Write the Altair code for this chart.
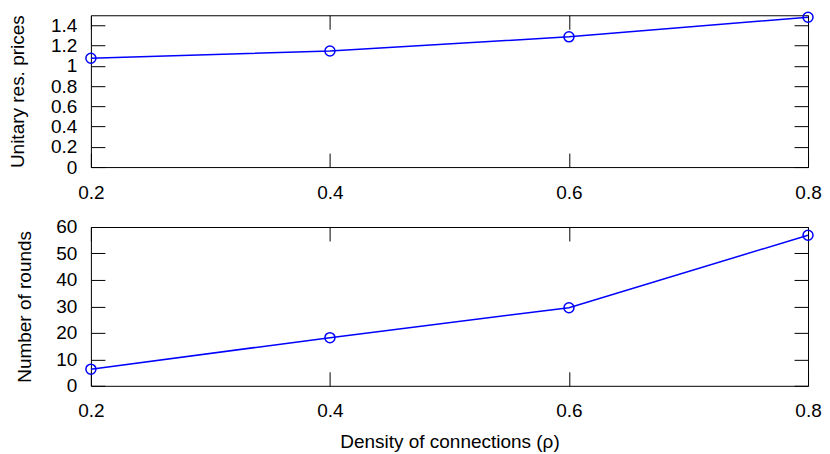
import altair as alt
import pandas as pd

# ---- data ----
density = [0.2, 0.4, 0.6, 0.8]
prices = [1.075, 1.147, 1.287, 1.481]
rounds = [6.3, 18.2, 29.5, 56.9]

x_ticks = [0.2, 0.4, 0.6, 0.8]
price_ticks = [0, 0.2, 0.4, 0.6, 0.8, 1.0, 1.2, 1.4]
round_ticks = [0, 10, 20, 30, 40, 50, 60]

W = 718
H_TOP = 152
H_BOT = 159
TICK = 14
FS = 19
BLUE = "#0000ff"


def panel(values, ytitle, ydomain, yticks, height, title_pad, xtitle):
    df = pd.DataFrame({"density": density, "value": values})
    xs = alt.Scale(domain=[0.2, 0.8], nice=False, zero=False)
    ys = alt.Scale(domain=ydomain, nice=False, zero=False)

    x_kwargs = dict(values=x_ticks, labelExpr="datum.value + ''", ticks=False,
                    domain=False, grid=False, labelPadding=16, labelFlush=False)
    if xtitle:
        x_main_axis = alt.Axis(title=xtitle, titlePadding=12, **x_kwargs)
    else:
        x_main_axis = alt.Axis(title=None, **x_kwargs)

    main = alt.Chart(df).mark_line(
        color=BLUE, strokeWidth=1.5,
        point=alt.OverlayMarkDef(filled=False, shape="circle", size=100,
                                 color=BLUE, strokeWidth=1.5, opacity=1),
    ).encode(
        x=alt.X("density:Q", scale=xs, axis=x_main_axis),
        y=alt.Y("value:Q", scale=ys,
                axis=alt.Axis(values=yticks, labelExpr="datum.value + ''",
                              ticks=False, domain=False, grid=False,
                              labelPadding=14, labelFlush=False,
                              title=ytitle, titlePadding=title_pad)),
    )

    def tick_axis(orient, offset, vals):
        return alt.Axis(orient=orient, offset=offset, values=vals, labels=False,
                        ticks=True, tickSize=TICK, domain=False, grid=False,
                        minExtent=0, maxExtent=0, title=None)

    inner1 = alt.Chart(df).mark_point(opacity=0, size=1).encode(
        x=alt.X("density:Q", scale=xs, axis=tick_axis("top", -height, x_ticks)),
        y=alt.Y("value:Q", scale=ys, axis=tick_axis("right", -W, yticks)),
    )
    inner2 = alt.Chart(df).mark_point(opacity=0, size=1).encode(
        x=alt.X("density:Q", scale=xs, axis=tick_axis("bottom", -height, x_ticks)),
        y=alt.Y("value:Q", scale=ys, axis=tick_axis("left", -W, yticks)),
    )

    return alt.layer(main, inner1, inner2).resolve_axis(
        x="independent", y="independent"
    ).properties(width=W, height=height)


top = panel(prices, "Unitary res. prices", [0, 1.5], price_ticks, H_TOP, 23, None)
bottom = panel(rounds, "Number of rounds", [0, 60], round_ticks, H_BOT, 21,
               "Density of connections (ρ)")

chart = alt.vconcat(top, bottom, spacing=60, bounds="flush").properties(
    padding={"left": 0, "top": 0, "right": 0, "bottom": 0}
).configure_view(
    stroke="black", strokeWidth=1
).configure_axis(
    labelFont="Liberation Sans", labelFontSize=FS, labelColor="black",
    titleFont="Liberation Sans", titleFontSize=FS, titleColor="black",
    titleFontWeight="normal", tickColor="black", tickWidth=1,
)

chart.save("out.html", embed_options={"renderer": "svg", "actions": False})
